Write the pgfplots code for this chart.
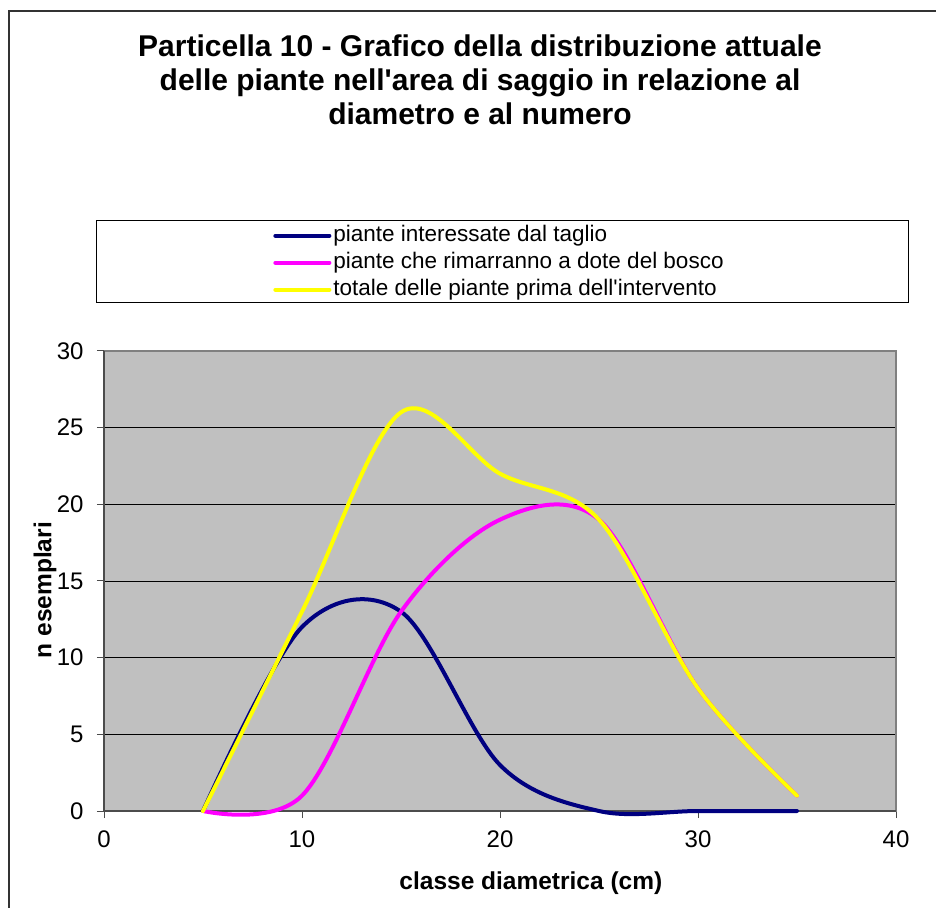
\documentclass[border=0pt]{standalone}
\usepackage{fontspec}
\setmainfont{Liberation Sans}
\usepackage{pgfplots}
\pgfplotsset{compat=1.18}
\definecolor{navyb}{RGB}{0,0,128}
\definecolor{magb}{RGB}{255,0,255}
\definecolor{yelb}{RGB}{255,255,0}
\definecolor{plotbg}{RGB}{192,192,192}
\begin{document}
\begin{tikzpicture}
\useasboundingbox (0,0) rectangle (936pt,907pt);
\draw[black!80, line width=1.5pt] (9pt,-5pt) -- (9pt,896pt) -- (945pt,896pt);
\node[font=\fontsize{30}{34}\selectfont\bfseries, align=center] at (480pt,827pt)
  {Particella 10 - Grafico della distribuzione attuale\\ delle piante nell\textquotesingle area di saggio in relazione al\\ diametro e al numero};
\draw[black, line width=1pt] (96pt,604pt) rectangle (908pt,686pt);
\begin{axis}[
  at={(104pt,96pt)}, anchor=south west,
  scale only axis, width=792pt, height=460pt,
  xmin=0, xmax=40, ymin=0, ymax=30,
  clip=false,
  xtick={0,10,20,30,40},
  ytick={5,10,15,20,25},
  extra y ticks={0,30},
  extra y tick style={grid=none},
  xtick pos=lower, ytick pos=left,
  axis background/.style={fill=plotbg},
  axis line style={draw=gray, line width=1.2pt},
  ymajorgrids, major grid style={black, line width=0.9pt},
  tick align=outside, major tick length=7pt,
  tick style={black!70, line width=1pt},
  ticklabel style={font=\fontsize{24}{24}\selectfont},
  xticklabel style={yshift=-9pt},
  yticklabel style={xshift=-10pt},
  /pgf/number format/assume math mode=true,
  xlabel={classe diametrica (cm)}, ylabel={n esemplari},
  label style={font=\fontsize{24.5}{24.5}\selectfont\bfseries},
  xlabel style={at={(axis description cs:0.539,-0.1565)}, anchor=center},
  ylabel style={at={(axis description cs:-0.0745,0.48)}, anchor=center},
  legend style={at={(axis description cs:0.2136,1.276)}, anchor=north west,
    draw=none, fill=none, font=\fontsize{22.5}{22.5}\selectfont,
    row sep=4pt, inner sep=0pt,
    nodes={inner sep=2pt, text height=15pt, text depth=4pt}},
  legend cell align=left,
  legend image code/.code={\draw[#1] (0pt,0pt) -- (54pt,0pt);},
  every axis plot/.append style={line width=4pt, line cap=round, smooth, tension=0.55},
]
\draw[black!70, line width=1.5pt] (rel axis cs:0,1) -- (rel axis cs:0,0) -- (rel axis cs:1,0);
\addplot[navyb] coordinates {(5,0) (10,12) (15,13) (20,3) (25,0) (30,0) (35,0)};
\addlegendentry{piante interessate dal taglio}
\addplot[magb] coordinates {(5,0) (10,1) (15,13) (20,19) (25,19) (30,8) (35,1)};
\addlegendentry{piante che rimarranno a dote del bosco}
\addplot[yelb] coordinates {(5,0) (10,13) (15,26) (20,22) (25,19) (30,8) (35,1)};
\addlegendentry{totale delle piante prima dell\textquotesingle intervento}
\end{axis}
\end{tikzpicture}
\end{document}
